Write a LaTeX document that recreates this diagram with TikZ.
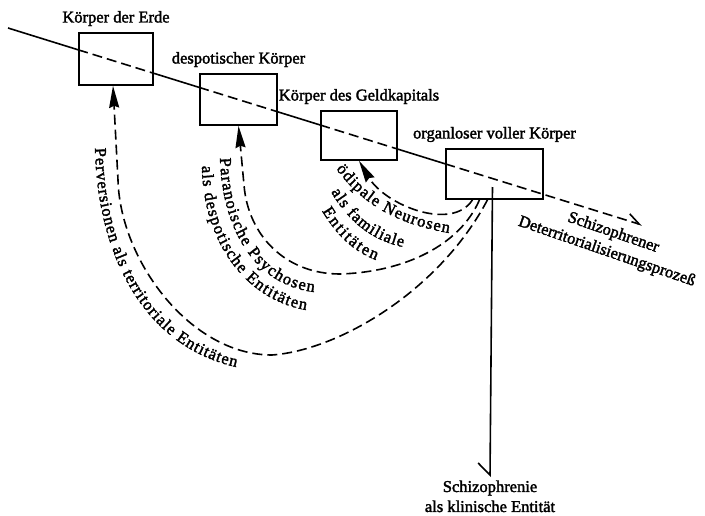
\documentclass[tikz,border=0pt]{standalone}
\usepackage{fontspec}
\setmainfont{Liberation Serif}[BoldFont={Liberation Serif},BoldFeatures={FakeBold=2}]
\usepackage{tikz}
\usetikzlibrary{arrows.meta,calc,positioning,decorations.text}
\newcommand{\bodyfont}{\fontsize{16.5}{20}\selectfont\bfseries}

\begin{document}
\begin{tikzpicture}[x=1pt,y=-1pt,font=\bodyfont,
  koerper/.style={draw,line width=1.6pt,inner sep=0pt},
  kname/.style={inner sep=2pt},
  achse/.style={line width=1.6pt},
  strich/.style={line width=1.6pt,dash pattern=on 10pt off 5pt},
  spitze/.style={-{Stealth[length=22pt,width=10pt,inset=2pt]}},
  kurvtext/.style={decorate,decoration={text along path,text align=fit to path,text={|\bodyfont|#1}}}]
\useasboundingbox (0,0) rectangle (705,515);
\node[koerper,minimum width=74pt,minimum height=52pt] (erde) at (116,59) {};
\node[koerper,minimum width=77pt,minimum height=51pt] (despot) at (238.5,99.5) {};
\node[koerper,minimum width=76pt,minimum height=49pt] (geld) at (359,135.5) {};
\node[koerper,minimum width=97pt,minimum height=50pt] (organ) at (494.5,174) {};
\node[kname,above=4pt of erde] (erde-l) {Körper der Erde};
\node[kname,above=4pt of despot] (despot-l) {despotischer Körper};
\node[kname,above=4pt of geld] (geld-l) {Körper des Geldkapitals};
\node[kname,above=4pt of organ] (organ-l) {organloser voller Körper};
% Achse mit gestrichelten Stuecken in den Koerpern
\coordinate (s) at (8,28);
\coordinate (e) at (642,225);
\foreach \b in {erde,despot,geld,organ}{
  \coordinate (\b-ein) at (intersection of s--e and \b.north west--\b.south west);
  \coordinate (\b-aus) at (intersection of s--e and \b.north east--\b.south east);
}
\draw[achse] (s) -- (erde-ein) (erde-aus) -- (despot-ein) (despot-aus) -- (geld-ein) (geld-aus) -- (organ-ein);
\foreach \b in {erde,despot,geld}
  \draw[strich] (\b-ein) -- (\b-aus);
\draw[strich,-{Straight Barb[left,length=12pt,width=14pt]}] (organ-ein) -- (e);
\node[rotate=-19,align=center] (proz) at (610,242.5) {Schizophrener\\Deterritorialisierungsprozeß};
% klinische Entitaet
\node[align=center,anchor=north] (klin) at (490,477) {Schizophrenie\\als klinische Entität};
\draw[achse,-{Straight Barb[right,length=12pt,width=24pt]}] ([shift={(-2pt,-13pt)}]organ.center) -- (klin.north);
% Rueckwege zu den Koerpern
\draw[strich,spitze] ([xshift=-7pt]organ.south) .. controls (440,290) and (340,350) .. (272,355)
  .. controls (190,355) and (120,260) .. (118,180) -- ([xshift=-3pt]erde.south);
\draw[strich,spitze] ([xshift=-15pt]organ.south) .. controls (460,245) and (405,272) .. (340,274)
  .. controls (285,274) and (248,235) .. (244,185) -- (despot.south);
\draw[strich,spitze] ([xshift=-22pt]organ.south) .. controls (452,232) and (385,205) .. (geld.south);
\path[kurvtext={Perversionen als territoriale Entitäten}] (95,148) .. controls (97,250) and (140,345) .. (236,367);
\path[kurvtext={Paranoische Psychosen}] (220,158) .. controls (222,230) and (255,285) .. (314,292);
\path[kurvtext={als despotische Entitäten}] (202,166) .. controls (203,245) and (248,300) .. (306,310);
\path[kurvtext={ödipale Neurosen}] (336,169) .. controls (357,196) and (385,222) .. (449,233);
\path[kurvtext={als familiale}] (331,192) .. controls (348,220) and (370,240) .. (403,247);
\path[kurvtext={Entitäten}] (322,211) .. controls (335,232) and (350,250) .. (376,260);
\end{tikzpicture}
\end{document}
